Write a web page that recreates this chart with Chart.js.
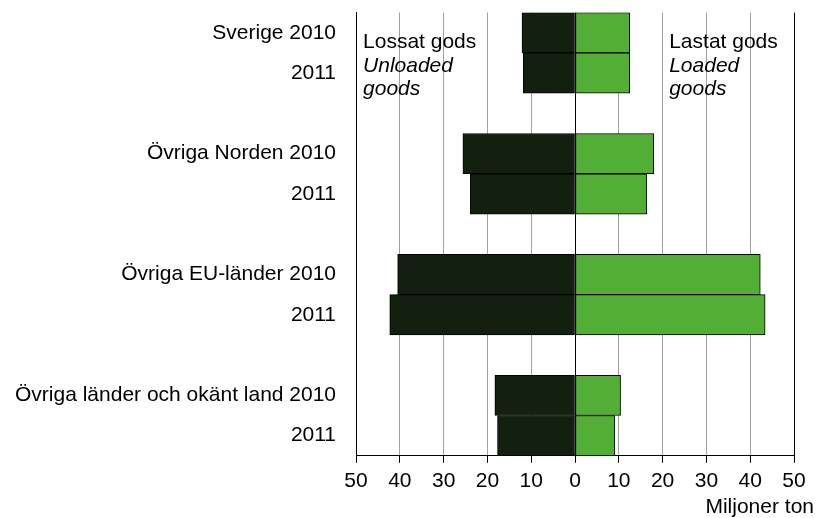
<!DOCTYPE html>
<html>
<head>
<meta charset="utf-8">
<script src="https://cdn.jsdelivr.net/npm/chart.js@4/dist/chart.umd.min.js"></script>
<style>
html,body{margin:0;padding:0;background:#fff;}
#wrap{width:818px;height:518px;}
</style>
</head>
<body>
<div id="wrap"><canvas id="c" width="818" height="518"></canvas></div>
<script>
// Categories (empty strings are spacer rows between groups)
const categories = [
  'Sverige 2010', '2011', '',
  'Övriga Norden 2010', '2011', '',
  'Övriga EU-länder 2010', '2011', '',
  'Övriga länder och okänt land 2010', '2011'
];
// Unloaded goods (shown to the left, negative), million tonnes
const unloaded = [-12.1, -11.8, null, -25.6, -23.9, null, -40.5, -42.3, null, -18.3, -17.7];
// Loaded goods (shown to the right), million tonnes
const loaded = [12.5, 12.5, null, 18.0, 16.4, null, 42.3, 43.4, null, 10.4, 9.1];
const xTicks = [-50, -40, -30, -20, -10, 0, 10, 20, 30, 40, 50];
const axisTitle = 'Miljoner ton';
const leftNote = ['Lossat gods', 'Unloaded', 'goods'];
const rightNote = ['Lastat gods', 'Loaded', 'goods'];

const FONT = 'Liberation Sans, Arial, sans-serif';
const FS = 21;

const notes = {
  id: 'notes',
  afterDraw(chart) {
    const ctx = chart.ctx;
    const xs = chart.scales.x, ys = chart.scales.y;
    const step = ys.getPixelForValue(1) - ys.getPixelForValue(0);
    const y0 = ys.getPixelForValue(0) - step / 2;
    ctx.save();
    ctx.fillStyle = '#000';
    ctx.textBaseline = 'middle';
    ctx.textAlign = 'left';
    const lineY = [y0 + 29.5, y0 + 53.5, y0 + 77];
    const lx = xs.getPixelForValue(-48.4);
    const rx = xs.getPixelForValue(21.5);
    [[leftNote, lx], [rightNote, rx]].forEach(([lines, x]) => {
      lines.forEach((t, i) => {
        ctx.font = (i === 0 ? '' : 'italic ') + FS + 'px ' + FONT;
        ctx.fillText(t, x, lineY[i]);
      });
    });
    ctx.font = FS + 'px ' + FONT;
    ctx.textAlign = 'right';
    ctx.fillText(axisTitle, chart.width - 4, chart.chartArea.bottom + 51);
    ctx.restore();
  }
};

new Chart(document.getElementById('c'), {
  type: 'bar',
  data: {
    labels: categories,
    datasets: [
      { label: 'Lossat gods', data: unloaded, backgroundColor: '#13200f', borderColor: '#000', borderWidth: 1, borderSkipped: false, barPercentage: 1, categoryPercentage: 1 },
      { label: 'Lastat gods', data: loaded, backgroundColor: '#52ae34', borderColor: '#000', borderWidth: 1, borderSkipped: false, barPercentage: 1, categoryPercentage: 1 }
    ]
  },
  options: {
    indexAxis: 'y',
    responsive: false,
    animation: false,
    layout: { padding: { top: 12, left: 15, right: 24, bottom: 18 } },
    plugins: { legend: { display: false }, tooltip: { enabled: false } },
    scales: {
      x: {
        stacked: true,
        min: -50, max: 50,
        afterBuildTicks(scale) { scale.ticks = xTicks.map(v => ({ value: v })); },
        ticks: {
          color: '#000',
          font: { family: FONT, size: FS },
          padding: 6,
          maxRotation: 0,
          autoSkip: false,
          callback: v => String(Math.abs(v))
        },
        grid: {
          color: ctx => (ctx.tick && (ctx.tick.value === 0 || Math.abs(ctx.tick.value) === 50)) ? '#000' : '#a0a0a0',
          lineWidth: 1,
          tickColor: '#000',
          tickLength: 7,
          drawTicks: true
        },
        border: { color: '#000', width: 1 }
      },
      y: {
        stacked: true,
        ticks: {
          color: '#000',
          font: { family: FONT, size: FS },
          padding: 0,
          autoSkip: false
        },
        grid: { display: true, drawOnChartArea: false, drawTicks: true, tickLength: 20, color: 'rgba(0,0,0,0)', tickColor: 'rgba(0,0,0,0)' },
        border: { color: '#000', width: 1 }
      }
    }
  },
  plugins: [notes]
});
</script>
</body>
</html>
